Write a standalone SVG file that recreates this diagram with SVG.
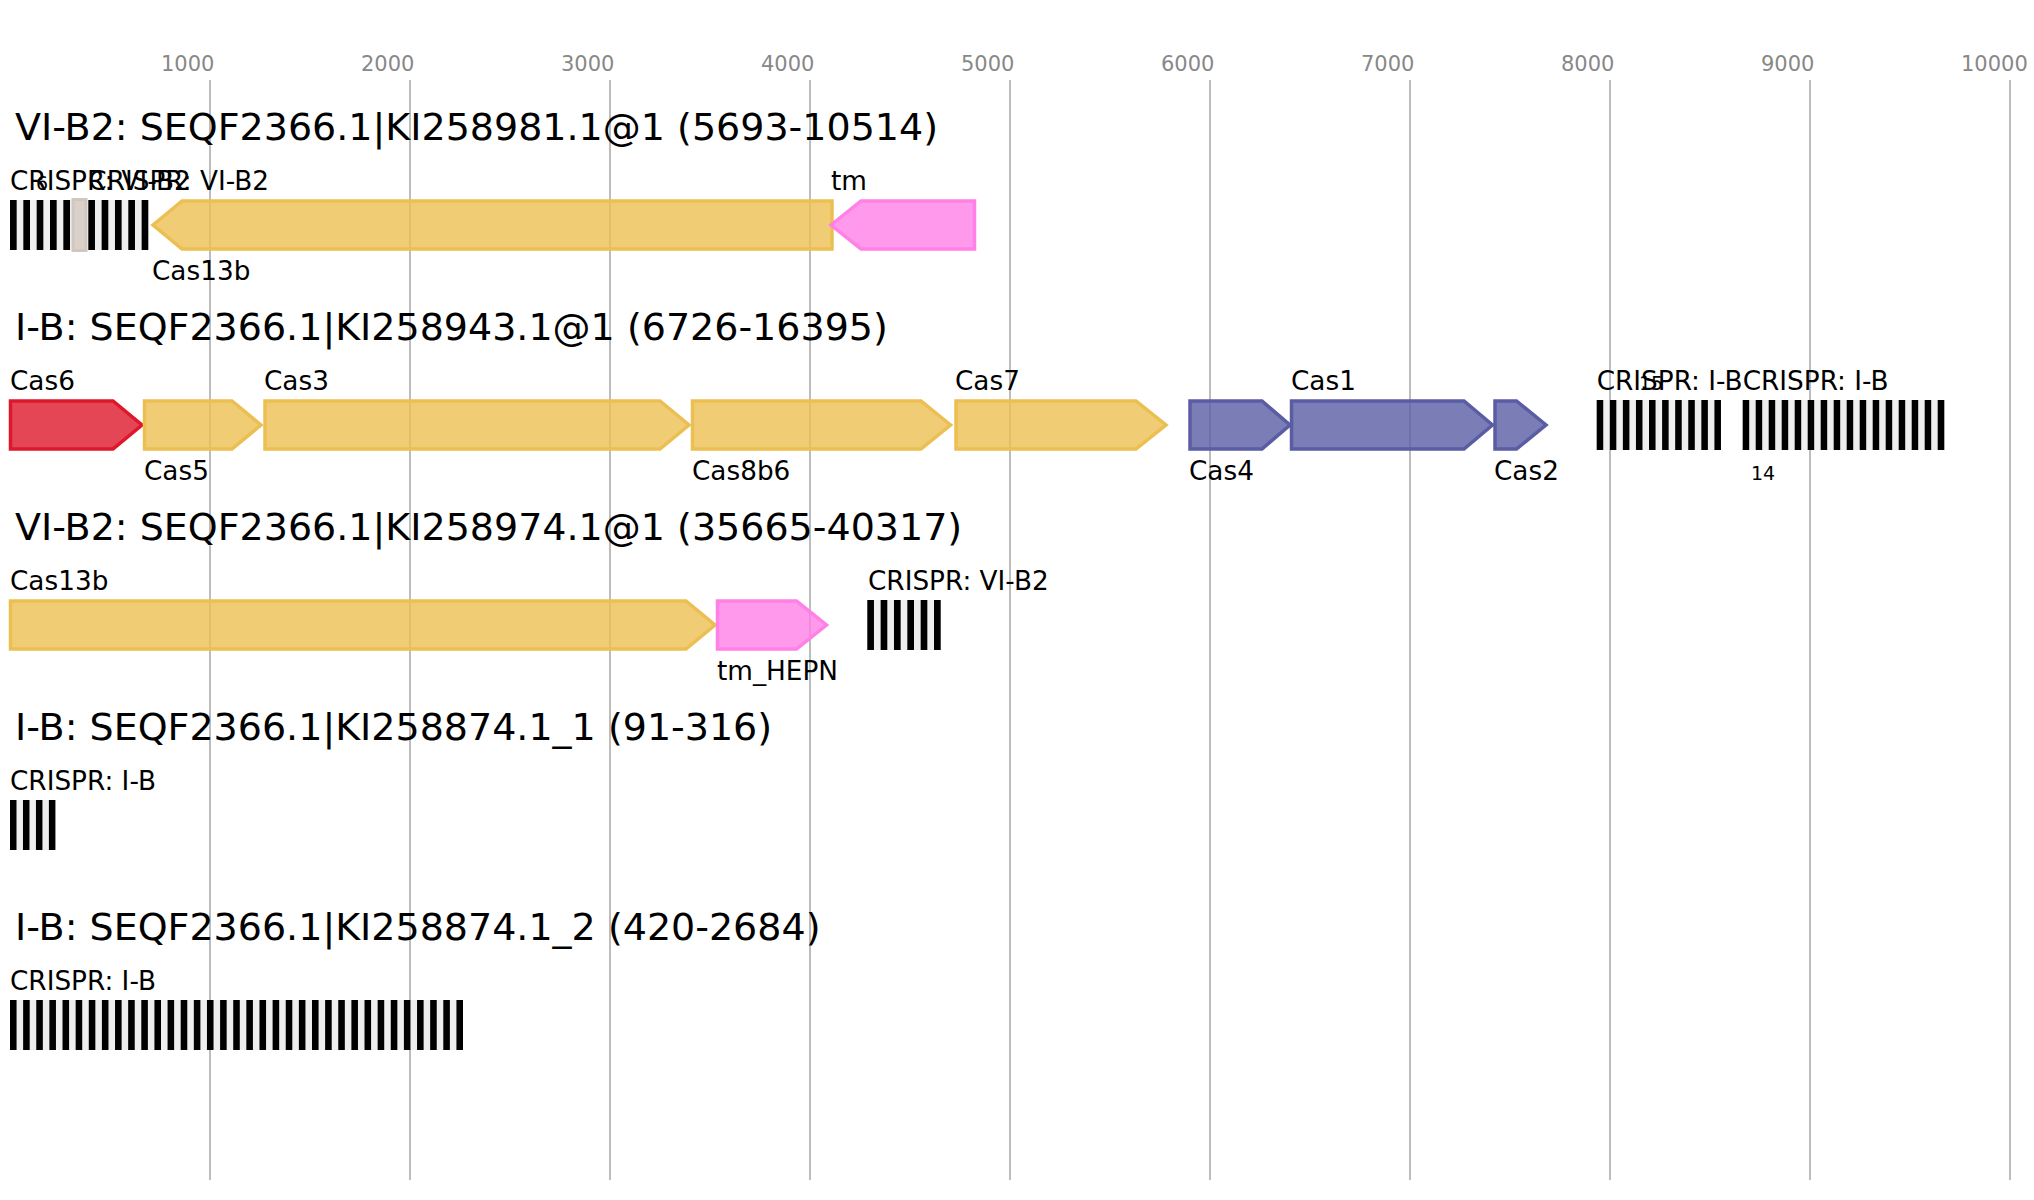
<svg xmlns="http://www.w3.org/2000/svg" width="2034" height="1200" viewBox="0 0 2034 1200">
<style>
text{font-family:"DejaVu Sans","Liberation Sans",sans-serif;fill:#000}
.tick{font-size:21px;fill:#888}
.title{font-size:38px}
.lbl{font-size:26.3px}
.cnt{font-size:19px}
.grid{stroke:#bdbdbd;stroke-width:2}
.g{stroke-width:3.5;fill-opacity:0.8;stroke-linejoin:miter}
.yel{fill:#ECBF52;stroke:#ECBF52}
.pink{fill:#FF80E6;stroke:#FF80E6}
.red{fill:#DD182A;stroke:#DD182A}
.blue{fill:#5A5CA4;stroke:#5A5CA4}
.sp{fill:#eeeeee}
.rp{fill:#000}
</style>
<rect width="2034" height="1200" fill="#fff"/>
<g id="axis">
<g id="gridlines">
<line class="grid" x1="210" y1="80" x2="210" y2="1180"/>
<line class="grid" x1="410" y1="80" x2="410" y2="1180"/>
<line class="grid" x1="610" y1="80" x2="610" y2="1180"/>
<line class="grid" x1="810" y1="80" x2="810" y2="1180"/>
<line class="grid" x1="1010" y1="80" x2="1010" y2="1180"/>
<line class="grid" x1="1210" y1="80" x2="1210" y2="1180"/>
<line class="grid" x1="1410" y1="80" x2="1410" y2="1180"/>
<line class="grid" x1="1610" y1="80" x2="1610" y2="1180"/>
<line class="grid" x1="1810" y1="80" x2="1810" y2="1180"/>
<line class="grid" x1="2010" y1="80" x2="2010" y2="1180"/>
</g>
<g id="ticklabels">
<text class="tick" x="161" y="71">1000</text>
<text class="tick" x="361" y="71">2000</text>
<text class="tick" x="561" y="71">3000</text>
<text class="tick" x="761" y="71">4000</text>
<text class="tick" x="961" y="71">5000</text>
<text class="tick" x="1161" y="71">6000</text>
<text class="tick" x="1361" y="71">7000</text>
<text class="tick" x="1561" y="71">8000</text>
<text class="tick" x="1761" y="71">9000</text>
<text class="tick" x="1961" y="71">10000</text>
</g>
</g>

<g id="row1">
<text class="title" x="15" y="140">VI-B2: SEQF2366.1|KI258981.1@1 (5693-10514)</text>
<g id="r1-crispr1">
<rect class="sp" x="10" y="200" width="61.7" height="50"/>
<rect class="rp" x="10" y="200" width="6.67" height="50"/>
<rect class="rp" x="23.33" y="200" width="6.67" height="50"/>
<rect class="rp" x="36.67" y="200" width="6.67" height="50"/>
<rect class="rp" x="50" y="200" width="6.67" height="50"/>
<rect class="rp" x="63.33" y="200" width="6.67" height="50"/>
<text class="lbl" x="10" y="190">CRISPR: VI-B2</text>
</g>
<g id="r1-unknown">
<rect x="73" y="199.5" width="13" height="51" fill="#dad1ca" stroke="#d2c7bd" stroke-width="3"/>
</g>
<g id="r1-crispr2">
<rect class="sp" x="88.3" y="200" width="60" height="50"/>
<rect class="rp" x="88.3" y="200" width="6.67" height="50"/>
<rect class="rp" x="101.63" y="200" width="6.67" height="50"/>
<rect class="rp" x="114.97" y="200" width="6.67" height="50"/>
<rect class="rp" x="128.3" y="200" width="6.67" height="50"/>
<rect class="rp" x="141.63" y="200" width="6.67" height="50"/>
<text class="lbl" x="88.3" y="190">CRISPR: VI-B2</text>
</g>
<text class="cnt" x="36" y="190">6</text>
<g id="r1-cas13b">
<polygon class="g yel" points="153,225 182,201 832,201 832,249 182,249"/>
<text class="lbl" x="152" y="280">Cas13b</text>
</g>
<g id="r1-tm">
<polygon class="g pink" points="831,225 861,201 974.5,201 974.5,249 861,249"/>
<text class="lbl" x="831" y="190">tm</text>
</g>
</g>

<g id="row2">
<text class="title" x="15" y="340">I-B: SEQF2366.1|KI258943.1@1 (6726-16395)</text>
<g id="r2-cas6">
<polygon class="g red" points="10.5,401 113,401 142,425 113,449 10.5,449"/>
<text class="lbl" x="10" y="390">Cas6</text>
</g>
<g id="r2-cas5">
<polygon class="g yel" points="144.5,401 232,401 261,425 232,449 144.5,449"/>
<text class="lbl" x="144" y="480">Cas5</text>
</g>
<g id="r2-cas3">
<polygon class="g yel" points="265,401 660,401 689,425 660,449 265,449"/>
<text class="lbl" x="264" y="390">Cas3</text>
</g>
<g id="r2-cas8b6">
<polygon class="g yel" points="692.5,401 921,401 950.5,425 921,449 692.5,449"/>
<text class="lbl" x="692" y="480">Cas8b6</text>
</g>
<g id="r2-cas7">
<polygon class="g yel" points="956,401 1136,401 1166,425 1136,449 956,449"/>
<text class="lbl" x="955" y="390">Cas7</text>
</g>
<g id="r2-cas4">
<polygon class="g blue" points="1190,401 1262,401 1290,425 1262,449 1190,449"/>
<text class="lbl" x="1189" y="480">Cas4</text>
</g>
<g id="r2-cas1">
<polygon class="g blue" points="1291.5,401 1464,401 1492.5,425 1464,449 1291.5,449"/>
<text class="lbl" x="1291" y="390">Cas1</text>
</g>
<g id="r2-cas2">
<polygon class="g blue" points="1495,401 1516.5,401 1546,425 1516.5,449 1495,449"/>
<text class="lbl" x="1494" y="480">Cas2</text>
</g>
<g id="r2-crispr1">
<rect class="sp" x="1596.7" y="400" width="124.3" height="50"/>
<rect class="rp" x="1596.7" y="400" width="6.54" height="50"/>
<rect class="rp" x="1609.78" y="400" width="6.54" height="50"/>
<rect class="rp" x="1622.86" y="400" width="6.54" height="50"/>
<rect class="rp" x="1635.94" y="400" width="6.54" height="50"/>
<rect class="rp" x="1649.02" y="400" width="6.54" height="50"/>
<rect class="rp" x="1662.1" y="400" width="6.54" height="50"/>
<rect class="rp" x="1675.18" y="400" width="6.54" height="50"/>
<rect class="rp" x="1688.26" y="400" width="6.54" height="50"/>
<rect class="rp" x="1701.34" y="400" width="6.54" height="50"/>
<rect class="rp" x="1714.42" y="400" width="6.54" height="50"/>
<text class="lbl" x="1596.7" y="390">CRISPR: I-B</text>
<text class="cnt" x="1639" y="390">15</text>
</g>
<g id="r2-crispr2">
<rect class="sp" x="1742.7" y="400" width="201.6" height="50"/>
<rect class="rp" x="1742.7" y="400" width="6.5" height="50"/>
<rect class="rp" x="1755.7" y="400" width="6.5" height="50"/>
<rect class="rp" x="1768.7" y="400" width="6.5" height="50"/>
<rect class="rp" x="1781.7" y="400" width="6.5" height="50"/>
<rect class="rp" x="1794.7" y="400" width="6.5" height="50"/>
<rect class="rp" x="1807.7" y="400" width="6.5" height="50"/>
<rect class="rp" x="1820.7" y="400" width="6.5" height="50"/>
<rect class="rp" x="1833.7" y="400" width="6.5" height="50"/>
<rect class="rp" x="1846.7" y="400" width="6.5" height="50"/>
<rect class="rp" x="1859.7" y="400" width="6.5" height="50"/>
<rect class="rp" x="1872.7" y="400" width="6.5" height="50"/>
<rect class="rp" x="1885.7" y="400" width="6.5" height="50"/>
<rect class="rp" x="1898.7" y="400" width="6.5" height="50"/>
<rect class="rp" x="1911.7" y="400" width="6.5" height="50"/>
<rect class="rp" x="1924.7" y="400" width="6.5" height="50"/>
<rect class="rp" x="1937.7" y="400" width="6.6" height="50"/>
<text class="lbl" x="1742.7" y="390">CRISPR: I-B</text>
<text class="cnt" x="1751" y="480">14</text>
</g>
</g>

<g id="row3">
<text class="title" x="15" y="540">VI-B2: SEQF2366.1|KI258974.1@1 (35665-40317)</text>
<g id="r3-cas13b">
<polygon class="g yel" points="10.5,601 686,601 715,625 686,649 10.5,649"/>
<text class="lbl" x="10" y="590">Cas13b</text>
</g>
<g id="r3-tmhepn">
<polygon class="g pink" points="717.5,601 796.5,601 826.5,625 796.5,649 717.5,649"/>
<text class="lbl" x="717" y="680">tm_HEPN</text>
</g>
<g id="r3-crispr">
<rect class="sp" x="867.3" y="600" width="73.4" height="50"/>
<rect class="rp" x="867.3" y="600" width="6.67" height="50"/>
<rect class="rp" x="880.64" y="600" width="6.67" height="50"/>
<rect class="rp" x="893.98" y="600" width="6.67" height="50"/>
<rect class="rp" x="907.32" y="600" width="6.67" height="50"/>
<rect class="rp" x="920.66" y="600" width="6.67" height="50"/>
<rect class="rp" x="934" y="600" width="6.7" height="50"/>
<text class="lbl" x="868" y="590">CRISPR: VI-B2</text>
</g>
</g>

<g id="row4">
<text class="title" x="15" y="740">I-B: SEQF2366.1|KI258874.1_1 (91-316)</text>
<g id="r4-crispr">
<rect class="sp" x="10" y="800" width="45.4" height="50"/>
<rect class="rp" x="10" y="800" width="6.5" height="50"/>
<rect class="rp" x="22.97" y="800" width="6.5" height="50"/>
<rect class="rp" x="35.94" y="800" width="6.5" height="50"/>
<rect class="rp" x="48.9" y="800" width="6.5" height="50"/>
<text class="lbl" x="10" y="790">CRISPR: I-B</text>
</g>
</g>

<g id="row5">
<text class="title" x="15" y="940">I-B: SEQF2366.1|KI258874.1_2 (420-2684)</text>
<g id="r5-crispr">
<rect class="sp" x="10" y="1000" width="453" height="50"/>
<path fill="#000" d="M10 1000h6.57v50h-6.57zM23.13 1000h6.57v50h-6.57zM36.26 1000h6.57v50h-6.57zM49.39 1000h6.57v50h-6.57zM62.52 1000h6.57v50h-6.57zM75.65 1000h6.57v50h-6.57zM88.78 1000h6.57v50h-6.57zM101.91 1000h6.57v50h-6.57zM115.04 1000h6.57v50h-6.57zM128.17 1000h6.57v50h-6.57zM141.3 1000h6.57v50h-6.57zM154.43 1000h6.57v50h-6.57zM167.57 1000h6.57v50h-6.57zM180.7 1000h6.57v50h-6.57zM193.83 1000h6.57v50h-6.57zM206.96 1000h6.57v50h-6.57zM220.09 1000h6.57v50h-6.57zM233.22 1000h6.57v50h-6.57zM246.35 1000h6.57v50h-6.57zM259.48 1000h6.57v50h-6.57zM272.61 1000h6.57v50h-6.57zM285.74 1000h6.57v50h-6.57zM298.87 1000h6.57v50h-6.57zM312 1000h6.57v50h-6.57zM325.13 1000h6.57v50h-6.57zM338.26 1000h6.57v50h-6.57zM351.39 1000h6.57v50h-6.57zM364.52 1000h6.57v50h-6.57zM377.65 1000h6.57v50h-6.57zM390.78 1000h6.57v50h-6.57zM403.91 1000h6.57v50h-6.57zM417.04 1000h6.57v50h-6.57zM430.17 1000h6.57v50h-6.57zM443.3 1000h6.57v50h-6.57zM456.43 1000h6.57v50h-6.57z"/>
<text class="lbl" x="10" y="990">CRISPR: I-B</text>
</g>
</g>
</svg>
